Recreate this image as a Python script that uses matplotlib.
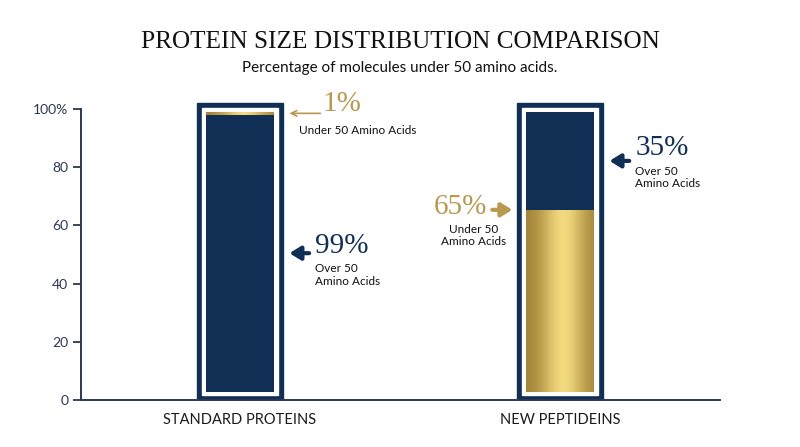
import numpy as np
import matplotlib.pyplot as plt
from matplotlib.patches import Rectangle

categories = ['STANDARD PROTEINS', 'NEW PEPTIDEINS']
under_50 = [1, 65]
over_50 = [99, 35]
yticks = [0, 20, 40, 60, 80, 100]
ytick_labels = ['0', '20', '40', '60', '80', '100%']

NAVY = '#112e55'
GOLD_TXT = '#b8994f'
AXIS = '#2b3852'

fig = plt.figure(figsize=(8, 4.47), dpi=100)
ax = fig.add_axes([0.101, 0.105, 0.799, 0.6706])

# horizontal gold gradient
g = np.linspace(0, 1, 200)
g = np.exp(-((g - 0.55) / 0.33) ** 2)
edge = np.array([0.62, 0.50, 0.20])
mid = np.array([0.95, 0.85, 0.50])
grad = edge[None, :] + g[:, None] * (mid - edge)[None, :]
grad = grad[None, :, :]

half_out = 0.135
half_in = 0.106
inset = 0.0156
base, top = 2.9, 99.0
span = top - base

for i, cat in enumerate(categories):
    ax.add_patch(Rectangle((i - half_out, 0), 2 * half_out, 102.0,
                           color=NAVY, zorder=2))
    ax.add_patch(Rectangle((i - half_out + inset, 1.7), 2 * (half_out - inset), 98.5,
                           color='white', zorder=3))
    if i == 0:
        split = top - under_50[i] / 100 * span
        ax.bar(i, split - base, bottom=base, width=2 * half_in, color=NAVY, zorder=4)
        im = ax.imshow(grad, extent=(i - half_in, i + half_in, split, top),
                       aspect='auto', zorder=5)
    else:
        split = base + under_50[i] / 100 * span
        ax.bar(i, top - split, bottom=split, width=2 * half_in, color=NAVY, zorder=4)
        im = ax.imshow(grad, extent=(i - half_in, i + half_in, base, split),
                       aspect='auto', zorder=5)

head = '-|>,head_width=0.4,head_length=0.65'

# annotations standard
s_split = top - under_50[0] / 100 * span
ax.annotate('', xy=(0.146, (s_split + top) / 2), xytext=(0.26, (s_split + top) / 2),
            arrowprops=dict(arrowstyle='->', color=GOLD_TXT, lw=1.2))
ax.text(0.258, 101.8, f'{under_50[0]}%', fontsize=21, family='Liberation Serif',
        color=GOLD_TXT, ha='left', va='center')
ax.text(0.184, 92.5, 'Under 50 Amino Acids', fontsize=8.5, family='Lato',
        color='#111111', ha='left', va='center')

s_mid = (base + s_split) / 2
ax.annotate('', xy=(0.146, s_mid), xytext=(0.225, s_mid),
            arrowprops=dict(arrowstyle=head, color=NAVY, lw=3))
ax.text(0.235, 53.0, f'{over_50[0]}%', fontsize=21, family='Liberation Serif',
        color=NAVY, ha='left', va='center')
ax.text(0.235, 47.0, 'Over 50\nAmino Acids', fontsize=8.5, family='Lato',
        color='#111111', ha='left', va='top', linespacing=1.15)

# annotations new
n_split = base + under_50[1] / 100 * span
n_mid = (n_split + top) / 2
ax.annotate('', xy=(1.146, n_mid), xytext=(1.225, n_mid),
            arrowprops=dict(arrowstyle=head, color=NAVY, lw=3))
ax.text(1.235, 86.5, f'{over_50[1]}%', fontsize=21, family='Liberation Serif',
        color=NAVY, ha='left', va='center')
ax.text(1.235, 80.5, 'Over 50\nAmino Acids', fontsize=8.5, family='Lato',
        color='#111111', ha='left', va='top', linespacing=1.15)

ax.annotate('', xy=(0.86, n_split), xytext=(0.78, n_split),
            arrowprops=dict(arrowstyle=head, color=GOLD_TXT, lw=3))
ax.text(0.773, 66.5, f'{under_50[1]}%', fontsize=21, family='Liberation Serif',
        color=GOLD_TXT, ha='right', va='center')
ax.text(0.73, 60.5, 'Under 50\nAmino Acids', fontsize=8.5, family='Lato',
        color='#111111', ha='center', va='top', linespacing=1.15)

ax.set_xlim(-0.497, 1.5)
ax.set_ylim(0, 103)
ax.set_xticks(range(len(categories)))
ax.set_xticklabels(categories, fontsize=10.5, family='Lato', color='#1a1a1a')
ax.set_yticks(yticks)
ax.set_yticklabels(ytick_labels, fontsize=10, family='Lato', color=AXIS)
ax.tick_params(axis='x', length=0, pad=9)
ax.tick_params(axis='y', length=6, width=1.3, color=AXIS, pad=3)
for s in ['top', 'right']:
    ax.spines[s].set_visible(False)
for s in ['left', 'bottom']:
    ax.spines[s].set_color(AXIS)
    ax.spines[s].set_linewidth(1.4)
ax.spines['left'].set_bounds(0, 100)

fig.text(0.5, 0.905, 'PROTEIN SIZE DISTRIBUTION COMPARISON', fontsize=18.2,
         family='Liberation Serif', color='#111111', ha='center', va='center')
fig.text(0.5, 0.848, 'Percentage of molecules under 50 amino acids.', fontsize=11,
         family='Lato', color='#111111', ha='center', va='center')

fig.savefig('out.png', dpi=100)
